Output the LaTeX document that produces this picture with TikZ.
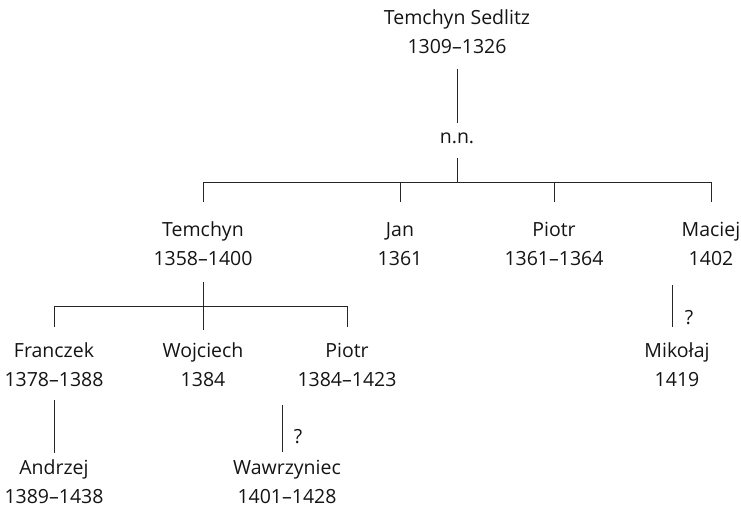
\documentclass[tikz,border=0pt]{standalone}
\usepackage{fontspec}
\setmainfont{Open Sans}
\usetikzlibrary{calc}
\begin{document}
\begin{tikzpicture}[x=1pt,y=-1pt,
  person/.style={inner sep=0pt, align=center, text=black!92,
    font=\fontsize{19.5}{29}\selectfont},
  link/.style={draw=black!85, line width=0.9pt},
  qmark/.style={inner sep=0pt, text=black!92, font=\fontsize{19.5}{22}\selectfont}]
\useasboundingbox (0,0) rectangle (741,508);
% persons
\node[person] (root) at (457,32) {Temchyn Sedlitz\\1309–1326};
\node[person] (nn) at (457,138) {n.n.};
\node[person] (tem) at (203,244) {Temchyn\\1358–1400};
\node[person] (jan) at (400,244) {Jan\\1361};
\node[person] (pio1) at (554,244) {Piotr\\1361–1364};
\node[person] (mac) at (711,244) {Maciej\\1402};
\node[person] (fra) at (54,365) {Franczek\\1378–1388};
\node[person] (woj) at (203,365) {Wojciech\\1384};
\node[person] (pio2) at (347,365) {Piotr\\1384–1423};
\node[person] (mik) at (677,365) {Mikołaj\\1419};
\node[person] (and) at (54,482) {Andrzej\\1389–1438};
\node[person] (waw) at (287,482) {Wawrzyniec\\1401–1428};
% bus coordinates
\coordinate (bus1) at (457,182);
\coordinate (bus2) at (203,306);
\coordinate (qw) at (282,405);
\coordinate (qm) at (672,285);
% connectors
\draw[link] (root.south |- 0,69) -- (nn.north |- 0,123);
\draw[link] (nn.south |- 0,158) -- (bus1);
\draw[link] (tem.north |- 0,202) -- (tem.north |- bus1) -- (mac.north |- bus1) -- (mac.north |- 0,202);
\draw[link] (jan.north |- bus1) -- (jan.north |- 0,202);
\draw[link] (pio1.north |- bus1) -- (pio1.north |- 0,202);
\draw[link] (tem.south |- 0,282) -- (woj.north |- 0,330);
\draw[link] (fra.north |- 0,327) -- (fra.north |- bus2) -- (pio2.north |- bus2) -- (pio2.north |- 0,327);
\draw[link] (fra.south |- 0,400) -- (and.north |- 0,453);
\draw[link] (qw) -- (qw |- 0,452);
\draw[link] (qm) -- (qm |- 0,327);
\node[qmark] (q1) at (298,437) {?};
\node[qmark] (q2) at (689,318) {?};
\end{tikzpicture}
\end{document}
